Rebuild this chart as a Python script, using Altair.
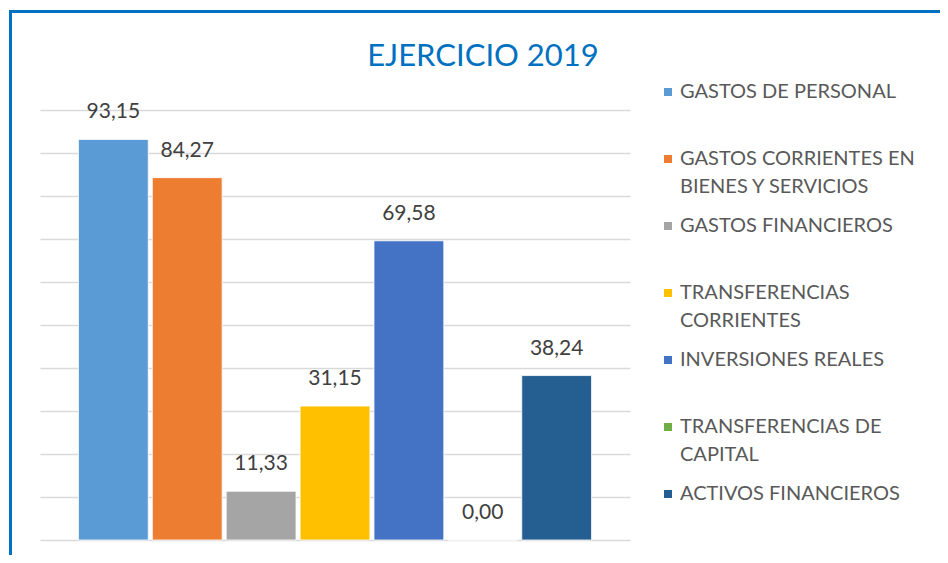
import altair as alt
import pandas as pd

# ---- data ----
categories = [
    "GASTOS DE PERSONAL",
    "GASTOS CORRIENTES EN BIENES Y SERVICIOS",
    "GASTOS FINANCIEROS",
    "TRANSFERENCIAS CORRIENTES",
    "INVERSIONES REALES",
    "TRANSFERENCIAS DE CAPITAL",
    "ACTIVOS FINANCIEROS",
]
values = [93.15, 84.27, 11.33, 31.15, 69.58, 0.00, 38.24]
colors = ["#5B9BD5", "#ED7D31", "#A5A5A5", "#FFC000", "#4472C4", "#70AD47", "#255E91"]
legend_lines = [
    ["GASTOS DE PERSONAL"],
    ["GASTOS CORRIENTES EN", "BIENES Y SERVICIOS"],
    ["GASTOS FINANCIEROS"],
    ["TRANSFERENCIAS", "CORRIENTES"],
    ["INVERSIONES REALES"],
    ["TRANSFERENCIAS DE", "CAPITAL"],
    ["ACTIVOS FINANCIEROS"],
]
title_text = "EJERCICIO 2019"
y_ticks = [0, 10, 20, 30, 40, 50, 60, 70, 80, 90, 100]

df = pd.DataFrame({"cat": categories, "val": values})
df["lbl"] = [f"{v:.2f}".replace(".", ",") for v in values]

# legend label expression: every label gets two lines so rows are evenly spaced
parts = []
for name, lines in zip(categories, legend_lines):
    arr = lines + ([""] if len(lines) == 1 else [])
    arr_s = "[" + ",".join("'" + s + "'" for s in arr) + "]"
    parts.append(f"datum.label == '{name}' ? {arr_s}")
label_expr = " : ".join(parts) + " : datum.label"

FONT = "Lato"

x = alt.X("cat:N", sort=categories, axis=None,
          scale=alt.Scale(paddingInner=0.055, paddingOuter=0.52))
y = alt.Y("val:Q", scale=alt.Scale(domain=[0, 100], nice=False),
          axis=alt.Axis(values=y_ticks, labels=False, ticks=False, domain=False,
                        title=None, grid=True, gridColor="#D9D9D9", gridWidth=1.5))

bars = alt.Chart(df).mark_bar(stroke="white", strokeWidth=0.8).encode(
    x=x, y=y,
    color=alt.Color("cat:N", sort=categories,
                    scale=alt.Scale(domain=categories, range=colors),
                    legend=alt.Legend(
                        title=None, orient="none", legendX=618, legendY=-28,
                        symbolType="square", symbolSize=64, symbolStrokeWidth=0,
                        labelExpr=label_expr, labelBaseline="middle",
                        labelFont=FONT, labelFontSize=20, labelColor="#595959",
                        labelOffset=2, labelLimit=400, rowPadding=19, padding=0)),
)

texts = alt.Chart(df).mark_text(baseline="middle", dy=-27, font=FONT, fontSize=21,
                                color="#404040").encode(x=x, y="val:Q", text="lbl:N")

border_v = alt.Chart(df).mark_rule(color="#0070C0", strokeWidth=3).encode(
    x=alt.value(-29.5), y=alt.value(-98.5), y2=alt.value(700))
border_h = alt.Chart(df).mark_rule(color="#0070C0", strokeWidth=3).encode(
    x=alt.value(-31), x2=alt.value(1200), y=alt.value(-98.5))

chart = alt.layer(bars, texts, border_v, border_h).properties(
    width=590, height=430,
    title=alt.TitleParams(title_text, font=FONT, fontSize=31, fontWeight="normal",
                          color="#0070C0", anchor="middle", dx=148, dy=68, offset=5),
    padding={"left": 32, "top": 102, "right": 310, "bottom": 15},
    autosize=alt.AutoSizeParams(type="none"),
).configure(style={"guide-label": {"lineHeight": 28}}).configure_view(stroke=None)

chart.save("out.html", embed_options={"renderer": "svg", "actions": False})
